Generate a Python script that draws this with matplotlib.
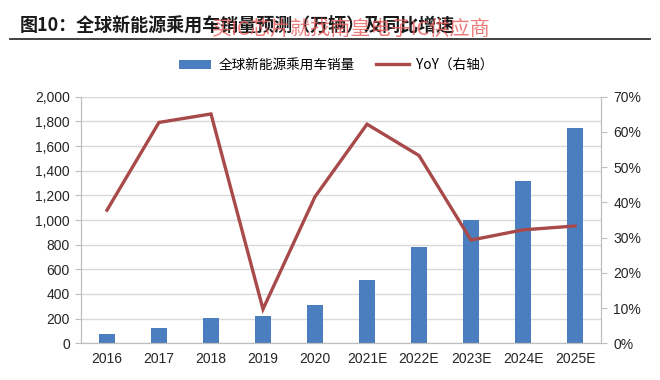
import matplotlib
matplotlib.use("Agg")
import matplotlib.pyplot as plt
from matplotlib.ticker import FuncFormatter, MultipleLocator
from matplotlib.lines import Line2D
from matplotlib.patches import Patch

plt.rcParams['font.family'] = ['Liberation Sans', 'Noto Sans CJK SC', 'DejaVu Sans']

categories = ['2016', '2017', '2018', '2019', '2020', '2021E', '2022E', '2023E', '2024E', '2025E']
sales = [78, 127, 203, 222, 313, 514, 778, 1000, 1319, 1749]
yoy = [37.8, 62.7, 65.1, 9.7, 41.6, 62.2, 53.3, 29.3, 32.2, 33.3]

title = '图10：全球新能源乘用车销量预测（万辆）及同比增速'
watermark = '买IC芯片就找南皇电子IC供应商'
bar_label = '全球新能源乘用车销量'
line_label = 'YoY（右轴）'

bar_color = '#4A7EBF'
line_color = '#A94A4A'
axis_gray = '#BFBFBF'
text_color = '#262626'

fig = plt.figure(figsize=(6.6, 3.8), dpi=100)
ax = fig.add_axes([81/660, 1-343.3/380, 520/660, 246.6/380])
x = list(range(len(categories)))
ax.bar(x, sales, width=0.3, color=bar_color, zorder=2)
ax.set_xlim(-0.5, len(categories)-0.5)
ax.set_ylim(0, 2000)
ax.yaxis.set_major_locator(MultipleLocator(200))
ax.yaxis.set_major_formatter(FuncFormatter(lambda v, p: f'{int(v):,}'))
ax.grid(axis='y', color='#D9D9D9', linewidth=1, zorder=0)
ax.set_axisbelow(True)
ax.set_xticks(x)
ax.set_xticklabels(categories)
ax.spines['top'].set_visible(False)
for s in ['left', 'bottom', 'right']:
    ax.spines[s].set_color(axis_gray)
ax.tick_params(axis='x', length=0, labelsize=10, colors=text_color, pad=6)
ax.tick_params(axis='y', length=4, color=axis_gray, labelsize=10, labelcolor=text_color, pad=4)

ax2 = ax.twinx()
ax2.plot(x, yoy, color=line_color, linewidth=2.4, zorder=3, solid_joinstyle='miter')
ax2.set_ylim(0, 70)
ax2.yaxis.set_major_locator(MultipleLocator(10))
ax2.yaxis.set_major_formatter(FuncFormatter(lambda v, p: f'{int(v)}%'))
ax2.spines['top'].set_visible(False)
for s in ['left', 'bottom', 'right']:
    ax2.spines[s].set_color(axis_gray)
ax2.tick_params(axis='y', length=4, color=axis_gray, labelsize=10, labelcolor=text_color, pad=5)

# title and rule
fig.text(20/660, 1-25/380, title, fontsize=13, fontweight='bold', color='#1A1A1A',
         va='center', ha='left', family=['Noto Sans CJK SC', 'DejaVu Sans'])
fig.add_artist(Line2D([10/660, 650/660], [1-38.5/380, 1-38.5/380], color='#333333', linewidth=1.3))
fig.text(212/660, 1-29/380, watermark, fontsize=14.5, color='#E85A5A', alpha=0.8,
         va='center', ha='left', family=['Noto Sans CJK SC', 'DejaVu Sans'])

handles = [Patch(facecolor=bar_color, edgecolor='none'),
           Line2D([0], [0], color=line_color, linewidth=2.4)]
fig.legend(handles, [bar_label, line_label], loc='center', bbox_to_anchor=(336/660, 1-65/380),
           ncol=2, frameon=False, handlelength=2.4, handleheight=0.6,
           columnspacing=1.6, handletextpad=0.5,
           prop={'family': ['Noto Sans CJK SC', 'DejaVu Sans'], 'size': 9.8})

fig.savefig('out.png', dpi=100)
